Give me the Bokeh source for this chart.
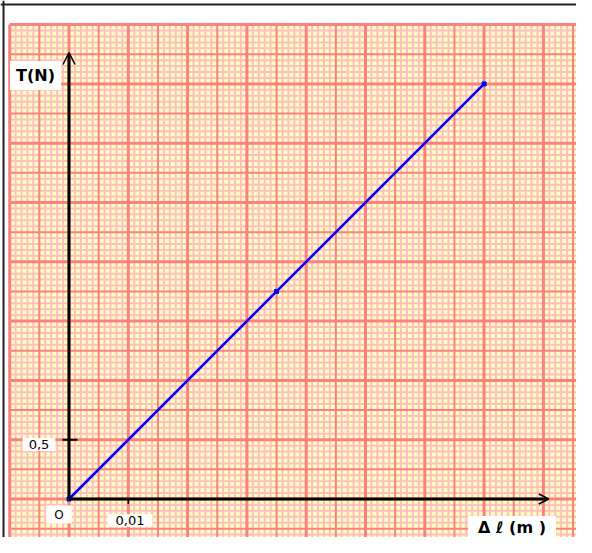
import numpy as np
from bokeh.plotting import figure
from bokeh.models import Range1d, Label, Arrow, OpenHead, Span
from bokeh.embed import file_html
from bokeh.resources import INLINE

# ---------------- data ----------------
elongation_m = [0.0, 0.035, 0.07]      # Δℓ (m)
tension_N = [0.0, 1.75, 3.5]           # T (N)
x_tick_values = [0.01]
x_tick_labels = ["0,01"]
y_tick_values = [0.5]
y_tick_labels = ["0,5"]
origin_label = "O"
x_title = "Δ ℓ (m )"
y_title = "T(N)"

# ---------------- layout ----------------
W, H = 576, 537
PX_PER_M = 5930.0          # 29.65 px per 0.005 m
PX_PER_N = 118.6           # 29.65 px per 0.25 N
OX, OY = 68.5, 498.5       # origin position on the canvas (px from left / top)

x_start = -OX / PX_PER_M
x_end = (W - OX) / PX_PER_M
y_end = OY / PX_PER_N
y_start = -(H - OY) / PX_PER_N

# graph-paper extent (data units)
paper_left, paper_right = -0.010, 0.0859
paper_bottom, paper_top = -0.375, 4.0
dx_minor, dy_minor = 0.001, 0.05

p = figure(width=W, height=H, output_backend="svg", toolbar_location=None,
           x_range=Range1d(x_start, x_end), y_range=Range1d(y_start, y_end),
           min_border=0, background_fill_color="white", border_fill_color="white")
p.outline_line_color = None
p.axis.visible = False
p.grid.visible = False
p.title.visible = False

# paper background
p.quad(left=[paper_left], right=[paper_right], bottom=[paper_bottom], top=[paper_top],
       fill_color="#FFFFC0", line_color=None)

kx = np.arange(int(round(paper_left / dx_minor)), int(np.floor(paper_right / dx_minor + 1e-9)) + 1)
ky = np.arange(int(np.ceil(paper_bottom / dy_minor - 1e-9)), int(round(paper_top / dy_minor)) + 1)

def vlines(mask, color, width):
    xs = kx[mask] * dx_minor
    p.segment(x0=xs, y0=[paper_bottom] * len(xs), x1=xs, y1=[paper_top] * len(xs),
              line_color=color, line_width=width)

def hlines(mask, color, width):
    ys = ky[mask] * dy_minor
    p.segment(x0=[paper_left] * len(ys), y0=ys, x1=[paper_right] * len(ys), y1=ys,
              line_color=color, line_width=width)

minor_c, major_c = "#FFC0C0", "#FF8080"
vlines(kx % 5 != 0, minor_c, 2)
hlines(ky % 5 != 0, minor_c, 2)
vlines((kx % 5 == 0) & (kx % 10 != 0), major_c, 2)
hlines((ky % 5 == 0) & (ky % 10 != 0), major_c, 2)
vlines(kx % 10 == 0, major_c, 3)
hlines(ky % 10 == 0, major_c, 3)

# frame of the picture
p.add_layout(Span(location=(OY - 4) / PX_PER_N, dimension="width", line_color="#222222", line_width=2))
p.add_layout(Span(location=(3 - OX) / PX_PER_M, dimension="height", line_color="#222222", line_width=2))

# axes with arrows
x_axis_end = 0.0809
y_axis_end = 3.765
p.add_layout(Arrow(x_start=0, y_start=0, x_end=x_axis_end, y_end=0, line_color="black", line_width=3,
                   end=OpenHead(size=10, line_color="black", line_width=1.5)))
p.add_layout(Arrow(x_start=0, y_start=0, x_end=0, y_end=y_axis_end, line_color="black", line_width=3,
                   end=OpenHead(size=12, line_color="black", line_width=1.5)))

# ticks
for yv in y_tick_values:
    p.segment(x0=[-6.5 / PX_PER_M], y0=[yv], x1=[8.5 / PX_PER_M], y1=[yv], line_color="black", line_width=2)
for xv in x_tick_values:
    p.segment(x0=[xv], y0=[0], x1=[xv], y1=[-5 / PX_PER_N], line_color="black", line_width=1.5)

# data line
p.line(elongation_m, tension_N, line_color="#0000FF", line_width=2.5)
p.scatter(elongation_m, tension_N, marker="square", size=4, color="#0000FF")

FONT = "DejaVu Sans"

def boxed(text, x, y, dx, dy, size, bold=False, pad=(6, 2)):
    p.add_layout(Label(x=x, y=y, x_offset=dx, y_offset=dy, text=text,
                       text_align="center", text_baseline="middle",
                       text_font=FONT, text_font_size=size,
                       text_font_style="bold" if bold else "normal",
                       text_color="black", background_fill_color="white",
                       padding=pad))

for xv, lab in zip(x_tick_values, x_tick_labels):
    boxed(lab, xv, 0, 1.7, -21.5, "13px", pad=(8, 2))
for yv, lab in zip(y_tick_values, y_tick_labels):
    boxed(lab, 0, yv, -30, -4.8, "13px", pad=(6, 2))
boxed(origin_label, 0, 0, -10, -15.5, "12px", pad=(8, 2))
boxed(y_title, 0, tension_N[-1], -33.5, 8.4, "16px", bold=True, pad=(6, 5))
boxed(x_title, elongation_m[-1], 0, 27.9, -28.5, "16px", bold=True, pad=(10, 2))

open("out.html", "w").write(file_html(p, INLINE))
